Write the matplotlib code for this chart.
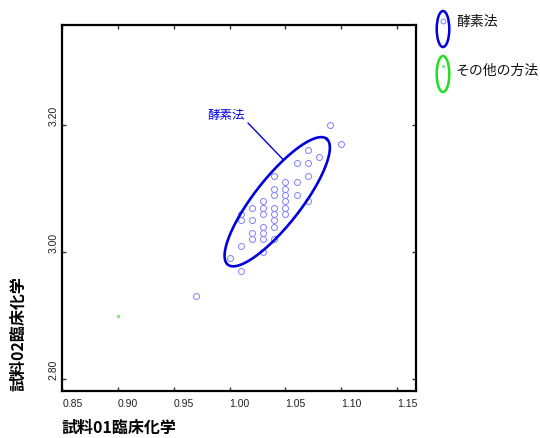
import numpy as np
import matplotlib
matplotlib.use("Agg")
import matplotlib.pyplot as plt
from matplotlib.patches import Ellipse

plt.rcParams['font.family'] = ['Noto Sans CJK JP', 'DejaVu Sans']

# ---- data ----
enzyme_x = [1.09, 1.10, 1.07, 1.08, 1.06, 1.07, 1.07, 1.04, 1.05, 1.06,
            1.05, 1.04, 1.04, 1.05, 1.06, 1.03, 1.05, 1.07, 1.04, 1.05,
            1.02, 1.03, 1.03, 1.04, 1.05, 1.01, 1.01, 1.02, 1.04, 1.03,
            1.04, 1.02, 1.03, 1.02, 1.03, 1.04, 1.01, 1.03, 1.00, 1.01,
            0.97]
enzyme_y = [3.20, 3.17, 3.16, 3.15, 3.14, 3.14, 3.12, 3.12, 3.11, 3.11,
            3.10, 3.10, 3.09, 3.09, 3.09, 3.08, 3.08, 3.08, 3.07, 3.07,
            3.07, 3.07, 3.06, 3.06, 3.06, 3.06, 3.05, 3.05, 3.05, 3.04,
            3.04, 3.03, 3.03, 3.02, 3.02, 3.02, 3.01, 3.00, 2.99, 2.97,
            2.93]
other_x = [0.90]
other_y = [2.90]

# ellipse (data units)
ellipse_center = [1.0426, 3.0792]
ellipse_major = [0.0442, 0.0992]   # half-axis vector
ellipse_minor = [0.0165, -0.0226]  # half-axis vector

x_ticks = [0.85, 0.90, 0.95, 1.00, 1.05, 1.10, 1.15]
x_ticklabels = ["0.85", "0.90", "0.95", "1.00", "1.05", "1.10", "1.15"]
y_ticks = [2.80, 3.00, 3.20]
y_ticklabels = ["2.80", "3.00", "3.20"]

series_names = ["酵素法", "その他の方法"]
x_label = "試料01臨床化学"
y_label = "試料02臨床化学"
ellipse_label = "酵素法"

blue = "#0000dd"
point_blue = "#8080ff"
green = "#22dd22"
point_green = "#80ee80"

W, H = 540, 439
fig = plt.figure(figsize=(W / 100, H / 100), dpi=100)
ax = fig.add_axes([62.3 / W, 1 - 391.7 / H, (415.7 - 62.3) / W, (391.7 - 26) / H])

ax.plot(enzyme_x, enzyme_y, linestyle='none', marker='o', markersize=4.3,
        markerfacecolor='none', markeredgecolor=point_blue, markeredgewidth=0.7)
ax.plot(other_x, other_y, linestyle='none', marker='s', markersize=2.0,
        markerfacecolor=point_green, markeredgecolor=point_green)

t = np.linspace(0, 2 * np.pi, 300)
cx = ellipse_center[0] + ellipse_major[0] * np.cos(t) + ellipse_minor[0] * np.sin(t)
cy = ellipse_center[1] + ellipse_major[1] * np.cos(t) + ellipse_minor[1] * np.sin(t)
ax.plot(cx, cy, color=blue, lw=1.9)

ax.set_xlim(0.85, 1.1667)
ax.set_ylim(2.7816, 3.3575)
ax.set_xticks(x_ticks)
ax.set_xticklabels(x_ticklabels, fontsize=7.5, family='Liberation Sans', ha='left')
ax.set_yticks(y_ticks)
ax.set_yticklabels(y_ticklabels, fontsize=7.5, family='Liberation Sans',
                   rotation=90, va='bottom', ha='right')
ax.tick_params(direction='in', length=3, width=1, color='#333333',
               top=True, right=True, labelcolor='#222222')
ax.tick_params(axis='x', pad=5)
ax.tick_params(axis='y', pad=2.5)
for s in ax.spines.values():
    s.set_linewidth(1.6)
    s.set_color('black')

# leader line from the label to the nearest point of the ellipse
anchor_px = np.array([248.0, H - 124.0])
disp = ax.transData.transform(np.column_stack([cx, cy]))
dist = np.hypot(disp[:, 0] - anchor_px[0], disp[:, 1] - anchor_px[1])
idx = int(np.argmin(dist))
ax.annotate('', xy=(cx[idx], cy[idx]), xycoords='data',
            xytext=(248 / W, 1 - 124 / H), textcoords='figure fraction',
            arrowprops=dict(arrowstyle='-', color=blue, lw=1.0,
                            shrinkA=0, shrinkB=0))
fig.text(245 / W, 1 - 115 / H, ellipse_label, color=blue, fontsize=9,
         ha='right', va='center')

# axis titles
fig.text(62 / W, 1 - 428 / H, x_label, fontsize=11.5, fontweight='bold',
         ha='left', va='center')
fig.text(18 / W, 1 - 391 / H, y_label, fontsize=11.5, fontweight='bold',
         rotation=90, ha='center', va='bottom')

# legend (outside the plot)
legend_colors = [blue, green]
legend_point = [point_blue, point_green]
legend_marker = ['o', 's']
legend_centers = [30, 75]
legend_text_y = [22, 71]
for i, name in enumerate(series_names):
    cyp = legend_centers[i]
    fig.patches.append(Ellipse((443 / W, 1 - cyp / H), 12.6 / W, 36 / H,
                               transform=fig.transFigure, fill=False,
                               edgecolor=legend_colors[i], lw=1.8))
    fig.add_artist(plt.Line2D([443 / W], [1 - (cyp - 8) / H],
                              transform=fig.transFigure, linestyle='none',
                              marker=legend_marker[i],
                              markersize=3.5 if i == 0 else 1.8,
                              markerfacecolor='none' if i == 0 else legend_point[i],
                              markeredgecolor=legend_point[i],
                              markeredgewidth=0.7))
    fig.text(456 / W, 1 - legend_text_y[i] / H, name, fontsize=10, ha='left',
             va='center', color='#111111')

fig.savefig("out.png", dpi=100)
